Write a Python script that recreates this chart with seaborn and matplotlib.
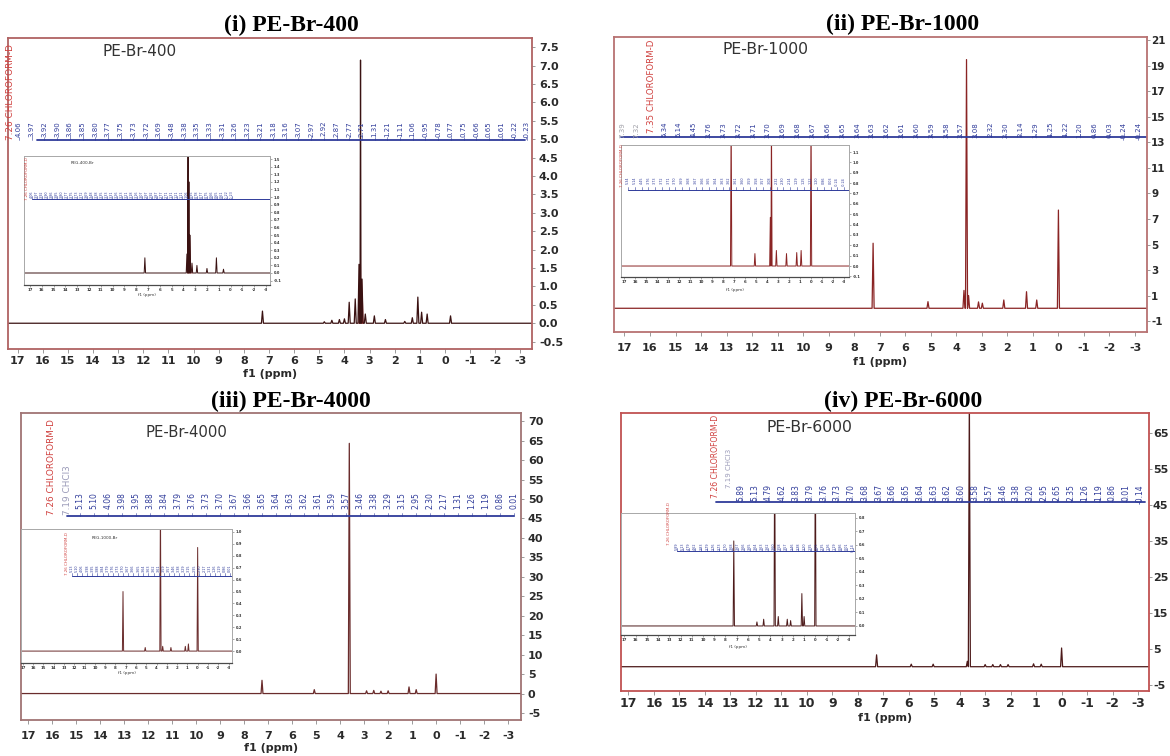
import numpy as np
import pandas as pd
import matplotlib
matplotlib.use("Agg")
import matplotlib.pyplot as plt
import seaborn as sns

sns.set_theme(style="white")
plt.rcParams["font.family"] = ["DejaVu Sans"]
plt.rcParams["axes.unicode_minus"] = False

# ---------------------------------------------------------------- data
# 1H NMR peak lists (chemical shift in ppm, relative intensity)
pe400_ppm = [7.26, 4.80, 4.50, 4.20, 4.00, 3.81, 3.57, 3.42, 3.36, 3.30, 3.17,
             2.81, 2.37, 1.60, 1.30, 1.08, 0.93, 0.71, -0.22]
pe400_int = [0.33, 0.04, 0.08, 0.10, 0.12, 0.57, 0.66, 1.60, 7.15, 1.20, 0.25,
             0.20, 0.10, 0.05, 0.15, 0.71, 0.30, 0.25, 0.20]
pe400_inset_ppm = [7.26, 3.70, 3.60, 3.53, 3.45, 3.27, 2.85, 2.00, 1.20, 0.60]
pe400_inset_int = [0.20, 0.25, 2.20, 1.20, 0.50, 0.13, 0.10, 0.06, 0.20, 0.05]
pe400_labels = ["4.06", "3.97", "3.92", "3.90", "3.86", "3.85", "3.80", "3.77",
                "3.75", "3.73", "3.72", "3.69", "3.48", "3.38", "3.35", "3.33",
                "3.31", "3.26", "3.23", "3.21", "3.18", "3.16", "3.07", "2.97",
                "2.92", "2.87", "2.77", "2.71", "1.31", "1.21", "1.11", "1.06",
                "0.95", "0.78", "0.77", "0.75", "0.66", "0.65", "0.61", "-0.22",
                "-0.23"]

pe1000_ppm = [7.26, 5.11, 3.70, 3.60, 3.52, 3.13, 2.98, 2.14, 1.25, 0.85, 0.00]
pe1000_int = [5.10, 0.52, 1.40, 19.5, 1.00, 0.50, 0.40, 0.65, 1.30, 0.65, 7.70]
pe1000_inset_ppm = [7.26, 5.10, 3.70, 3.60, 3.15, 2.23, 1.30, 0.90, 0.00]
pe1000_inset_int = [1.50, 0.12, 0.47, 1.50, 0.15, 0.12, 0.13, 0.15, 1.50]
pe1000_labels = ["5.34", "5.14", "4.45", "3.76", "3.73", "3.72", "3.71", "3.70",
                 "3.69", "3.68", "3.67", "3.66", "3.65", "3.64", "3.63", "3.62",
                 "3.61", "3.60", "3.59", "3.58", "3.57", "3.08", "2.32", "2.30",
                 "2.14", "1.29", "1.25", "1.22", "1.20", "0.86", "0.03", "-0.24",
                 "-0.24"]
pe1000_extra = ["7.39", "7.32"]

pe4000_ppm = [7.26, 5.08, 3.62, 2.90, 2.60, 2.30, 2.00, 1.13, 0.83, 0.00]
pe4000_int = [3.40, 1.00, 64.3, 0.70, 0.80, 0.60, 0.70, 1.70, 1.00, 5.00]
pe4000_inset_ppm = [7.26, 5.10, 3.62, 3.40, 2.60, 1.20, 0.90, 0.00]
pe4000_inset_int = [0.50, 0.03, 1.30, 0.04, 0.03, 0.04, 0.06, 0.87]
pe4000_labels = ["5.13", "5.10", "4.06", "3.98", "3.95", "3.88", "3.84", "3.79",
                 "3.76", "3.73", "3.70", "3.67", "3.66", "3.65", "3.64", "3.63",
                 "3.62", "3.61", "3.59", "3.57", "3.46", "3.38", "3.29", "3.15",
                 "2.95", "2.30", "2.17", "1.31", "1.26", "1.19", "0.86", "0.01"]

pe6000_ppm = [7.26, 5.90, 5.04, 3.70, 3.62, 3.00, 2.70, 2.40, 2.10, 1.10, 0.80, 0.00]
pe6000_int = [3.30, 0.70, 0.70, 1.50, 75.0, 0.60, 0.60, 0.60, 0.60, 0.80, 0.70, 5.20]
pe6000_inset_ppm = [7.26, 5.20, 4.60, 3.62, 3.30, 2.50, 2.20, 1.20, 1.00, 0.00]
pe6000_inset_int = [0.63, 0.03, 0.05, 1.50, 0.07, 0.05, 0.04, 0.24, 0.07, 1.50]
pe6000_labels = ["5.89", "5.13", "4.79", "4.62", "3.83", "3.79", "3.76", "3.73",
                 "3.70", "3.68", "3.67", "3.66", "3.65", "3.64", "3.63", "3.62",
                 "3.60", "3.58", "3.57", "3.46", "3.38", "3.20", "2.95", "2.65",
                 "2.35", "1.26", "1.19", "0.86", "0.01", "-0.14"]

ppm_ticks = list(range(17, -4, -1))

# ---------------------------------------------------------------- figure
FIG_W, FIG_H = 1170, 756
fig = plt.figure(figsize=(FIG_W / 100, FIG_H / 100), dpi=100)
fig.patch.set_facecolor("white")

BLUE = "#2f3b9a"
RED = "#d0413f"


def px_box(l, t, r, b):
    return [l / FIG_W, 1 - b / FIG_H, (r - l) / FIG_W, (b - t) / FIG_H]


def to_axes(box, x, y):
    l, t, r, b = box
    return (x - l) / (r - l), (b - y) / (b - t)


def spectrum_frame(ppm, inten, hw):
    pts = [(30.0, 0.0), (-10.0, 0.0)]
    for p, h in zip(ppm, inten):
        pts += [(p + hw, 0.0), (p, h), (p - hw, 0.0)]
    pts.sort(key=lambda t: -t[0])
    return pd.DataFrame(pts, columns=["ppm", "intensity"])


def label_row(ax, box, labels, x0, x1, y_top, y_bar, fs, color, bar=None, lw=1.0):
    xs = np.linspace(x0, x1, len(labels))
    for x, s in zip(xs, labels):
        ax_x, ax_y = to_axes(box, x, y_top)
        ax.text(ax_x, ax_y, s, transform=ax.transAxes, rotation=90,
                ha="center", va="top", fontsize=fs, color=color, clip_on=False)
    # short leader ticks from each label down to the bar
    _, yb = to_axes(box, x0, y_bar)
    _, yc = to_axes(box, x0, y_bar - 3)
    for x in xs:
        ax_x, _ = to_axes(box, x, y_bar)
        ax.plot([ax_x, ax_x], [yc, yb], transform=ax.transAxes, color=color,
                lw=0.5, alpha=0.8)
    bx0, bx1 = bar if bar else (x0, x1)
    a0, _ = to_axes(box, bx0, y_bar)
    a1, _ = to_axes(box, bx1, y_bar)
    ax.plot([a0, a1], [yb, yb], transform=ax.transAxes, color=color, lw=lw)


def vtext(ax, box, x, y_bottom, s, fs, color):
    ax_x, ax_y = to_axes(box, x, y_bottom)
    ax.text(ax_x, ax_y, s, transform=ax.transAxes, rotation=90, ha="center",
            va="bottom", fontsize=fs, color=color)


panels = [
    dict(title="(i) PE-Br-400", title_xy=(291, 25), name="PE-Br-400", name_xy=(140, 52),
         name_fs=11, box=(8, 38, 532, 349), xlim=(17.38, -3.46), ylim=(-0.70, 7.75),
         ppm=pe400_ppm, inten=pe400_int, yticks=np.arange(-0.5, 7.51, 0.5), yfmt="{:.1f}",
         line="#3a1212", frame="#b06262", tick_fs=8, ytick_fs=8, xpad=2.0, ypad=3.0,
         xlabel_y=374, fill=(3.50, 3.22, 1.6),
         red=(11, 140, 6.4, "7.26 CHLOROFORM-D"), grey=None, extra=None,
         labels=pe400_labels, lab=(19, 527, 121, 140, 5.0), bar=(37, 525),
         ibox=(24, 156, 270, 285), ixlim=(17.5, -3.34), iylim=(-0.158, 1.54),
         iyticks=np.arange(-0.1, 1.51, 0.1), ippm=pe400_inset_ppm, iint=pe400_inset_int,
         ifill=(3.70, 3.25, 1.22), ixlabel_y=295, ired=(27, 200), ilab=(32, 232, 190, 199),
         ititle=("PEG-400-Br", 82, 163)),
    dict(title="(ii) PE-Br-1000", title_xy=(903, 24), name="PE-Br-1000", name_xy=(766, 50),
         name_fs=11.3, box=(614, 37, 1147, 332), xlim=(17.41, -3.47), ylim=(-1.86, 21.27),
         ppm=pe1000_ppm, inten=pe1000_int, yticks=np.arange(-1, 21.1, 2), yfmt="{:.0f}",
         line="#8a2424", frame="#b77272", tick_fs=8, ytick_fs=7.5, xpad=5.0, ypad=1.0,
         xlabel_y=362, fill=None,
         red=(652, 133, 6.2, "7.35 CHLOROFORM-D"), grey=None, extra=(622, 636),
         labels=pe1000_labels, lab=(664, 1139, 122, 137, 5.0), bar=(621, 1147),
         ibox=(621, 145, 849, 277), ixlim=(17.27, -3.45), iylim=(-0.106, 1.168),
         iyticks=np.arange(-0.1, 1.11, 0.1), ippm=pe1000_inset_ppm, iint=pe1000_inset_int,
         ifill=None, ixlabel_y=290, ired=(622, 187), ilab=(628, 844, 177, 190),
         ititle=None),
    dict(title="(iii) PE-Br-4000", title_xy=(291, 401), name="PE-Br-4000", name_xy=(186, 433),
         name_fs=10.7, box=(21, 413, 521, 720), xlim=(17.31, -3.54), ylim=(-6.8, 72.1),
         ppm=pe4000_ppm, inten=pe4000_int, yticks=np.arange(-5, 70.1, 5), yfmt="{:.0f}",
         line="#6a2c2c", frame="#a07474", tick_fs=8, ytick_fs=8, xpad=5.0, ypad=3.0,
         xlabel_y=748, fill=None,
         red=(52, 515, 6.4, "7.26 CHLOROFORM-D"), grey=(67, 515, 6.4, "7.19 CHCl3"), extra=None,
         labels=pe4000_labels, lab=(80, 514, 492, 516, 5.5), bar=(67, 514),
         ibox=(21, 529, 232, 663), ixlim=(17.18, -3.34), iylim=(-0.10, 1.025),
         iyticks=np.arange(0.0, 1.01, 0.1), ippm=pe4000_inset_ppm, iint=pe4000_inset_int,
         ifill=None, ixlabel_y=673, ired=(67, 575), ilab=(72, 230, 565, 576),
         ititle=("PEG-1000-Br", 105, 538)),
    dict(title="(iv) PE-Br-6000", title_xy=(903, 401), name="PE-Br-6000", name_xy=(809, 428),
         name_fs=11.3, box=(621, 413, 1149, 691), xlim=(17.29, -3.43), ylim=(-6.75, 70.5),
         ppm=pe6000_ppm, inten=pe6000_int, yticks=np.arange(-5, 65.1, 10), yfmt="{:.0f}",
         line="#4d1a1a", frame="#c05252", tick_fs=9, ytick_fs=8, xpad=1.5, ypad=0.8,
         xlabel_y=718, fill=None,
         red=(716, 498, 5.6, "7.26 CHLOROFORM-D"), grey=(729, 488, 5.0, "7.19 CHCl3"), extra=None,
         labels=pe6000_labels, lab=(741, 1140, 484, 502, 5.5), bar=(716, 1145),
         ibox=(621, 513, 855, 635), ixlim=(17.3, -3.53), iylim=(-0.067, 0.837),
         iyticks=np.arange(0.0, 0.81, 0.1), ippm=pe6000_inset_ppm, iint=pe6000_inset_int,
         ifill=None, ixlabel_y=647, ired=(669, 545), ilab=(677, 853, 543, 551),
         ititle=None),
]

for cfg in panels:
    box = cfg["box"]
    ax = fig.add_axes(px_box(*box))
    ax.set_facecolor("white")
    df = spectrum_frame(cfg["ppm"], cfg["inten"], 0.04)
    sns.lineplot(data=df, x="ppm", y="intensity", ax=ax, sort=False, estimator=None,
                 color=cfg["line"], lw=0.9)
    if cfg["fill"]:
        hi, lo, cap = cfg["fill"]
        sel = (df["ppm"] <= hi) & (df["ppm"] >= lo)
        ax.fill_between(df["ppm"][sel], 0, np.minimum(df["intensity"][sel], cap),
                        color="#c41a1a", lw=0, alpha=0.9)
    ax.set_xlim(*cfg["xlim"])
    ax.set_ylim(*cfg["ylim"])
    ax.set_xlabel("")
    ax.set_ylabel("")
    ax.yaxis.tick_right()
    ax.set_xticks(ppm_ticks)
    ax.set_xticklabels([str(v) for v in ppm_ticks], fontsize=cfg["tick_fs"],
                       fontweight="bold", color="#2a2a2a")
    ax.set_yticks(cfg["yticks"])
    ax.set_yticklabels([cfg["yfmt"].format(v) for v in cfg["yticks"]],
                       fontsize=cfg["ytick_fs"], fontweight="bold", color="#2a2a2a")
    ax.tick_params(axis="x", bottom=True, direction="out", length=3, width=0.6,
                   color="#8a8a8a", pad=cfg["xpad"])
    ax.tick_params(axis="y", right=True, left=False, direction="out", length=2.0,
                   width=0.6, color="#8a8a8a", pad=cfg["ypad"])
    for sp in ax.spines.values():
        sp.set_color(cfg["frame"])
        sp.set_linewidth(1.3)

    # titles and sample name
    tx, ty = cfg["title_xy"]
    fig.text(tx / FIG_W, 1 - ty / FIG_H, cfg["title"], ha="center", va="center",
             fontsize=17, fontweight="bold", family="Liberation Serif", color="black")
    nx, ny = to_axes(box, *cfg["name_xy"])
    ax.text(nx, ny, cfg["name"], transform=ax.transAxes, ha="center", va="center",
            fontsize=cfg["name_fs"], color="#333333")
    fig.text(((box[0] + box[2]) / 2) / FIG_W, 1 - cfg["xlabel_y"] / FIG_H, "f1 (ppm)",
             ha="center", va="center", fontsize=8, fontweight="bold", color="#2a2a2a")

    # peak annotations
    rx, ry, rfs, rtxt = cfg["red"]
    vtext(ax, box, rx, ry, rtxt, rfs, RED)
    if cfg["grey"]:
        gx, gy, gfs, gtxt = cfg["grey"]
        vtext(ax, box, gx, gy, gtxt, gfs, "#9a9ab8")
    x0, x1, yt, yb, lfs = cfg["lab"]
    if cfg["extra"]:
        for ex, s in zip(cfg["extra"], pe1000_extra):
            exa, eya = to_axes(box, ex, yt)
            ax.text(exa, eya, s, transform=ax.transAxes, rotation=90, ha="center",
                    va="top", fontsize=lfs, color="#a0a0a8")
    label_row(ax, box, cfg["labels"], x0, x1, yt, yb, lfs, BLUE, bar=cfg["bar"], lw=1.3)

    # inset with the precursor spectrum
    ibox = cfg["ibox"]
    ins = fig.add_axes(px_box(*ibox), zorder=3)
    ins.set_facecolor("white")
    idf = spectrum_frame(cfg["ippm"], cfg["iint"], 0.06)
    sns.lineplot(data=idf, x="ppm", y="intensity", ax=ins, sort=False, estimator=None,
                 color=cfg["line"], lw=0.7)
    if cfg["ifill"]:
        hi, lo, cap = cfg["ifill"]
        sel = (idf["ppm"] <= hi) & (idf["ppm"] >= lo)
        ins.fill_between(idf["ppm"][sel], 0, np.minimum(idf["intensity"][sel], cap),
                         color="#c41a1a", lw=0, alpha=0.85)
    ins.set_xlim(*cfg["ixlim"])
    ins.set_ylim(*cfg["iylim"])
    ins.set_xlabel("")
    ins.set_ylabel("")
    ins.yaxis.tick_right()
    ins.set_xticks(ppm_ticks)
    ins.set_xticklabels([str(v) for v in ppm_ticks], fontsize=2.8, color="#333333",
                        fontweight="bold")
    ins.set_yticks(cfg["iyticks"])
    ins.set_yticklabels(["{:.1f}".format(v) for v in cfg["iyticks"]], fontsize=2.6,
                        color="#333333", fontweight="bold")
    ins.tick_params(axis="both", length=1.5, width=0.4, pad=1, color="#666666")
    ins.tick_params(axis="y", right=True, left=False)
    ins.tick_params(axis="x", bottom=True)
    for side in ("top", "right", "left"):
        ins.spines[side].set_color("#a8a8a8")
        ins.spines[side].set_linewidth(0.7)
    ins.spines["bottom"].set_color("#4a4a4a")
    ins.spines["bottom"].set_linewidth(0.9)
    fig.text(((ibox[0] + ibox[2]) / 2) / FIG_W, 1 - cfg["ixlabel_y"] / FIG_H, "f1 (ppm)",
             ha="center", va="center", fontsize=3, color="#333333")
    irx, iry = cfg["ired"]
    vtext(ins, ibox, irx, iry, "7.26 CHLOROFORM-D", 2.9, RED)
    ix0, ix1, iyt, iyb = cfg["ilab"]
    label_row(ins, ibox, cfg["labels"], ix0, ix1, iyt, iyb, 2.4, BLUE,
              bar=(ix0, ibox[2]), lw=0.7)
    if cfg["ititle"]:
        s, itx, ity = cfg["ititle"]
        ax_x, ax_y = to_axes(ibox, itx, ity)
        ins.text(ax_x, ax_y, s, transform=ins.transAxes, ha="center", va="center",
                 fontsize=3, color="#333333")

fig.savefig("out.png", dpi=100, facecolor="white")
